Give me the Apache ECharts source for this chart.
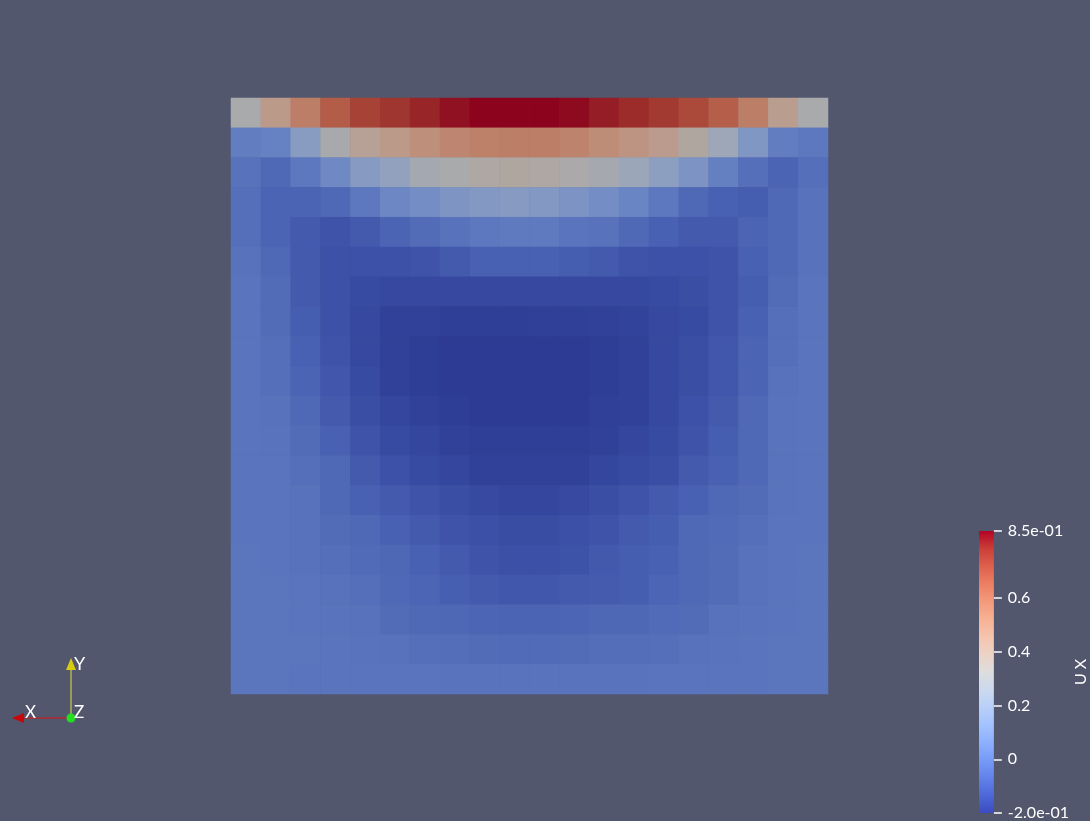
<!DOCTYPE html>
<html><head><meta charset="utf-8">
<script src="https://cdn.jsdelivr.net/npm/echarts@6/dist/echarts.min.js"></script>
<style>html,body{margin:0;padding:0;background:#52576e;}#c{width:1090px;height:821px;}</style>
</head><body><div id="c"></div>
<script>
// ---- DATA (UX, rows listed top to bottom, 20 columns left to right) ----
const colCats = Array.from({length:20},(_,i)=>String(i));
const rowCats = Array.from({length:20},(_,i)=>String(i));
const uxRow01 = [0.32,0.44,0.56,0.67,0.74,0.77,0.80,0.83,0.85,0.85,0.85,0.84,0.81,0.79,0.76,0.72,0.66,0.56,0.42,0.32];
const uxRow02 = [0.02,0.04,0.17,0.31,0.40,0.44,0.49,0.53,0.55,0.56,0.56,0.54,0.50,0.47,0.43,0.36,0.26,0.14,0.02,0.00];
const uxRow03 = [-0.02,-0.05,0.00,0.07,0.16,0.21,0.29,0.32,0.35,0.36,0.35,0.33,0.30,0.25,0.19,0.12,0.03,-0.03,-0.07,-0.03];
const uxRow04 = [-0.03,-0.07,-0.07,-0.05,0.00,0.06,0.09,0.13,0.15,0.16,0.15,0.12,0.09,0.05,0.00,-0.05,-0.08,-0.09,-0.05,-0.02];
const uxRow05 = [-0.03,-0.07,-0.10,-0.12,-0.10,-0.07,-0.04,-0.02,0.00,0.01,0.01,-0.01,-0.02,-0.05,-0.08,-0.10,-0.10,-0.07,-0.05,-0.02];
const uxRow06 = [-0.02,-0.05,-0.10,-0.13,-0.13,-0.13,-0.12,-0.10,-0.08,-0.08,-0.08,-0.09,-0.10,-0.12,-0.13,-0.13,-0.12,-0.08,-0.05,-0.02];
const uxRow07 = [-0.01,-0.04,-0.10,-0.13,-0.15,-0.16,-0.16,-0.16,-0.16,-0.16,-0.16,-0.16,-0.16,-0.16,-0.15,-0.14,-0.12,-0.09,-0.04,-0.01];
const uxRow08 = [-0.01,-0.04,-0.09,-0.13,-0.16,-0.18,-0.18,-0.19,-0.19,-0.19,-0.185,-0.185,-0.18,-0.175,-0.16,-0.15,-0.12,-0.08,-0.03,-0.01];
const uxRow09 = [-0.01,-0.03,-0.08,-0.12,-0.16,-0.18,-0.195,-0.20,-0.20,-0.20,-0.20,-0.20,-0.195,-0.18,-0.16,-0.14,-0.11,-0.07,-0.03,-0.01];
const uxRow10 = [-0.01,-0.03,-0.07,-0.11,-0.15,-0.18,-0.195,-0.20,-0.20,-0.20,-0.20,-0.20,-0.195,-0.18,-0.16,-0.14,-0.11,-0.07,-0.02,-0.01];
const uxRow11 = [-0.01,-0.02,-0.05,-0.10,-0.14,-0.165,-0.18,-0.195,-0.20,-0.20,-0.20,-0.20,-0.185,-0.18,-0.16,-0.13,-0.10,-0.05,-0.015,-0.01];
const uxRow12 = [-0.01,-0.015,-0.04,-0.08,-0.12,-0.15,-0.165,-0.18,-0.19,-0.19,-0.19,-0.19,-0.18,-0.165,-0.15,-0.12,-0.09,-0.05,-0.015,-0.01];
const uxRow13 = [-0.01,-0.01,-0.03,-0.05,-0.10,-0.13,-0.15,-0.165,-0.18,-0.18,-0.18,-0.18,-0.165,-0.15,-0.14,-0.10,-0.08,-0.05,-0.015,-0.01];
const uxRow14 = [-0.01,-0.01,-0.02,-0.05,-0.08,-0.10,-0.12,-0.14,-0.155,-0.165,-0.165,-0.155,-0.14,-0.12,-0.10,-0.08,-0.05,-0.04,-0.015,-0.01];
const uxRow15 = [-0.01,-0.01,-0.02,-0.04,-0.05,-0.08,-0.10,-0.12,-0.135,-0.145,-0.145,-0.135,-0.12,-0.10,-0.09,-0.05,-0.045,-0.03,-0.01,-0.01];
const uxRow16 = [-0.005,-0.01,-0.02,-0.03,-0.045,-0.055,-0.08,-0.10,-0.12,-0.135,-0.135,-0.125,-0.105,-0.09,-0.08,-0.05,-0.04,-0.02,-0.01,-0.005];
const uxRow17 = [-0.005,-0.005,-0.01,-0.02,-0.03,-0.05,-0.065,-0.085,-0.10,-0.11,-0.11,-0.10,-0.095,-0.09,-0.065,-0.05,-0.04,-0.02,-0.01,-0.005];
const uxRow18 = [-0.005,-0.005,-0.01,-0.015,-0.02,-0.04,-0.05,-0.055,-0.065,-0.07,-0.07,-0.065,-0.055,-0.055,-0.045,-0.04,-0.02,-0.015,-0.01,-0.005];
const uxRow19 = [-0.005,-0.005,-0.005,-0.01,-0.015,-0.02,-0.03,-0.035,-0.04,-0.045,-0.045,-0.04,-0.035,-0.035,-0.03,-0.02,-0.015,-0.01,-0.005,-0.005];
const uxRow20 = [-0.008,-0.008,-0.01,-0.01,-0.01,-0.012,-0.012,-0.014,-0.015,-0.015,-0.015,-0.015,-0.014,-0.013,-0.012,-0.012,-0.01,-0.01,-0.008,-0.008];
const uxMin = -0.2, uxMax = 0.85;
const barTicks = [-0.2, 0, 0.2, 0.4, 0.6, 0.85];
const barTickText = ['-2.0e-01', '0', '0.2', '0.4', '0.6', '8.5e-01'];
const barTitle = 'U X';

// ---- styling ----
const coolWarm = [[59,76,192],[77,104,215],[98,130,234],[119,154,247],[141,176,254],[163,194,255],[184,208,249],[204,217,238],[221,221,221],[236,211,197],[245,196,173],[247,177,148],[244,154,123],[236,127,99],[222,96,77],[203,62,56],[180,4,38]];
const shade = 0.77;
const rgb = (c,f)=>'rgb('+c.map(v=>Math.round(v*f)).join(',')+')';
const shadedColors = coolWarm.map(c=>rgb(c,shade));
const barStops = coolWarm.map((c,i)=>({offset:1-i/(coolWarm.length-1), color:rgb(c,1)}));

const rows = [uxRow01,uxRow02,uxRow03,uxRow04,uxRow05,uxRow06,uxRow07,uxRow08,uxRow09,uxRow10,uxRow11,uxRow12,uxRow13,uxRow14,uxRow15,uxRow16,uxRow17,uxRow18,uxRow19,uxRow20];
const heat = [];
rows.forEach((r,ri)=>r.forEach((v,ci)=>heat.push([ci,ri,v])));

const font = 'Lato, "Noto Sans", sans-serif';
const chart = echarts.init(document.getElementById('c'), null, {renderer:'canvas'});
chart.setOption({
  backgroundColor:'#52576e',
  animation:false,
  grid:[
    {left:231, top:98, width:597, height:596},
    {left:979, top:531, width:16, height:283}
  ],
  xAxis:[
    {gridIndex:0, type:'category', data:colCats, show:false},
    {gridIndex:1, type:'category', data:['bar'], show:false}
  ],
  yAxis:[
    {gridIndex:0, type:'category', data:rowCats, inverse:true, show:false},
    {gridIndex:1, type:'value', min:uxMin, max:uxMax, position:'right',
     splitLine:{show:false}, axisLine:{show:false},
     axisTick:{show:true, inside:false, length:8, customValues:barTicks, lineStyle:{color:'#ffffff', width:1.5}},
     axisLabel:{show:true, margin:14, customValues:barTicks, color:'#ffffff', fontSize:16, fontFamily:font,
       formatter:(v)=>{const i=barTicks.findIndex(t=>Math.abs(t-v)<1e-9);return i>=0?barTickText[i]:'';}},
     name:barTitle, nameLocation:'middle', nameRotate:90, nameGap:78,
     nameTextStyle:{color:'#ffffff', fontSize:16, fontFamily:font}}
  ],
  visualMap:[{type:'continuous', show:false, min:uxMin, max:uxMax, seriesIndex:0, dimension:2,
    inRange:{color:shadedColors}}],
  series:[
    {type:'heatmap', xAxisIndex:0, yAxisIndex:0, data:heat, itemStyle:{borderWidth:0}, emphasis:{disabled:true}},
    {type:'custom', xAxisIndex:1, yAxisIndex:1, data:[[0,uxMin,uxMax]], encode:{x:0,y:[1,2]},
     renderItem:(params,api)=>{
       const a = api.coord([api.value(0), api.value(2)]);
       const b = api.coord([api.value(0), api.value(1)]);
       const cs = params.coordSys;
       return {type:'rect', shape:{x:cs.x, y:a[1], width:cs.width, height:b[1]-a[1]},
         style:{fill:new echarts.graphic.LinearGradient(0,0,0,1,barStops)}};
     }}
  ],
  graphic:[
    {type:'line', shape:{x1:71,y1:718,x2:71,y2:668}, style:{stroke:'#e0e040', lineWidth:1}},
    {type:'polygon', shape:{points:[[66,670],[76,670],[71,658]]}, style:{fill:'#d8cc10'}},
    {type:'line', shape:{x1:71,y1:718,x2:23,y2:718}, style:{stroke:'#e01010', lineWidth:1}},
    {type:'polygon', shape:{points:[[24,713],[24,723],[12,718]]}, style:{fill:'#c80808'}},
    {type:'circle', shape:{cx:71,cy:718,r:4.5}, style:{fill:'#20e020'}},
    {type:'text', left:74, top:655, style:{text:'Y', fill:'#ffffff', font:'18px '+font}},
    {type:'text', left:25, top:704, style:{text:'X', fill:'#ffffff', font:'17px '+font}},
    {type:'text', left:74, top:704, style:{text:'Z', fill:'#ffffff', font:'17px '+font}}
  ]
});
</script></body></html>
